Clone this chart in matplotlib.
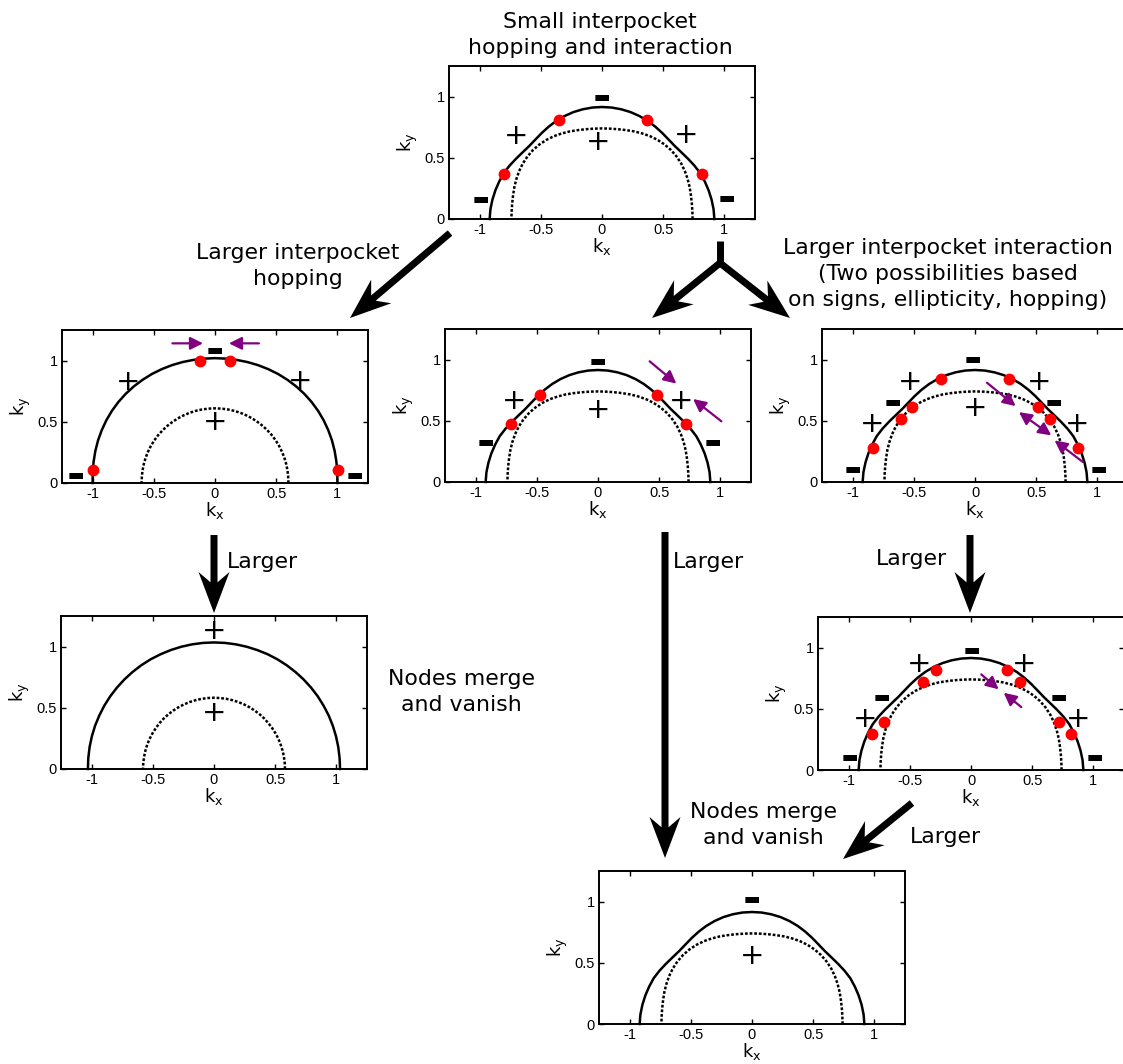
import numpy as np
import matplotlib
matplotlib.use('Agg')
import matplotlib.pyplot as plt
from matplotlib.patches import FancyArrow

plt.rcParams['font.family'] = ['DejaVu Sans']
plt.rcParams['mathtext.fontset'] = 'custom'
plt.rcParams['mathtext.rm'] = 'Liberation Sans'
plt.rcParams['mathtext.it'] = 'Liberation Sans:italic'

W, H = 1123, 1064
AW, AH = 306, 153
fig = plt.figure(figsize=(W / 100, H / 100), dpi=100)

# ---------------- data ----------------
THETA_DEG = np.arange(0, 181, 5)

R_OUT_STD = [0.918, 0.915, 0.909, 0.902, 0.894, 0.886, 0.872, 0.858, 0.847, 0.842,
             0.847, 0.858, 0.871, 0.884, 0.895, 0.904, 0.910, 0.914, 0.915,
             0.914, 0.910, 0.904, 0.895, 0.884, 0.871, 0.858, 0.847, 0.842,
             0.847, 0.858, 0.872, 0.886, 0.894, 0.902, 0.909, 0.915, 0.918]
R_IN_STD = [0.740, 0.741, 0.745, 0.752, 0.762, 0.772, 0.782, 0.790, 0.795, 0.797,
            0.795, 0.790, 0.782, 0.772, 0.762, 0.752, 0.745, 0.741, 0.740,
            0.741, 0.745, 0.752, 0.762, 0.772, 0.782, 0.790, 0.795, 0.797,
            0.795, 0.790, 0.782, 0.772, 0.762, 0.752, 0.745, 0.741, 0.740]
R_OUT_HOP = [1.000, 1.003, 1.007, 1.012, 1.017, 1.021, 1.025, 1.028, 1.030, 1.031,
             1.031, 1.030, 1.029, 1.027, 1.025, 1.023, 1.021, 1.020, 1.020,
             1.020, 1.021, 1.023, 1.025, 1.027, 1.029, 1.030, 1.031, 1.031,
             1.030, 1.028, 1.025, 1.021, 1.017, 1.012, 1.007, 1.003, 1.000]
R_IN_HOP = [0.600, 0.600, 0.601, 0.602, 0.603, 0.604, 0.605, 0.606, 0.607, 0.607,
            0.608, 0.608, 0.609, 0.609, 0.610, 0.610, 0.610, 0.610, 0.610,
            0.610, 0.610, 0.610, 0.610, 0.609, 0.609, 0.608, 0.608, 0.607,
            0.607, 0.606, 0.605, 0.604, 0.603, 0.602, 0.601, 0.600, 0.600]
R_OUT_MERGE = [1.030, 1.030, 1.031, 1.032, 1.033, 1.034, 1.034, 1.035, 1.035, 1.035,
               1.035, 1.035, 1.035, 1.035, 1.034, 1.034, 1.034, 1.034, 1.034,
               1.034, 1.034, 1.034, 1.034, 1.034, 1.035, 1.035, 1.035, 1.035,
               1.035, 1.035, 1.035, 1.034, 1.034, 1.033, 1.032, 1.031, 1.030]
R_IN_MERGE = [0.580, 0.580, 0.580, 0.580, 0.580, 0.581, 0.581, 0.581, 0.581, 0.582,
              0.582, 0.582, 0.582, 0.582, 0.582, 0.582, 0.582, 0.582, 0.582,
              0.582, 0.582, 0.582, 0.582, 0.582, 0.582, 0.582, 0.582, 0.582,
              0.582, 0.581, 0.581, 0.581, 0.581, 0.580, 0.580, 0.580, 0.580]

X_TICKS = [-1, -0.5, 0, 0.5, 1]
X_TICK_LABELS = ['-1', '-0.5', '0', '0.5', '1']
Y_TICKS = [0, 0.5, 1]
Y_TICK_LABELS = ['0', '0.5', '1']

# top panel
TOP_DOT_X = [-0.80, -0.355, 0.365, 0.815]
TOP_DOT_Y = [0.367, 0.811, 0.811, 0.367]
TOP_PLUS_X = [-0.70, -0.03, 0.69]
TOP_PLUS_Y = [0.68, 0.63, 0.686]
TOP_MINUS_X = [0.0, -0.993, 1.02]
TOP_MINUS_Y = [0.985, 0.15, 0.158]

# middle-left panel
ML_DOT_X = [-0.997, -0.122, 0.122, 1.003]
ML_DOT_Y = [0.109, 0.997, 0.997, 0.109]
ML_PLUS_X = [-0.707, 0.693, 0.0]
ML_PLUS_Y = [0.829, 0.834, 0.495]
ML_MINUS_X = [0.0, -1.141, 1.144]
ML_MINUS_Y = [1.073, 0.054, 0.054]
ML_ARROW_TAIL = [(-0.348, 1.141), (0.359, 1.141)]
ML_ARROW_HEAD = [(-0.098, 1.141), (0.114, 1.141)]
ML_ARROW_BOTH = [False, False]

# middle-centre panel
MC_DOT_X = [-0.708, -0.477, 0.485, 0.717]
MC_DOT_Y = [0.474, 0.711, 0.711, 0.474]
MC_PLUS_X = [-0.687, 0.005, 0.676]
MC_PLUS_Y = [0.659, 0.586, 0.659]
MC_MINUS_X = [0.0, -0.918, 0.935]
MC_MINUS_Y = [0.973, 0.313, 0.313]
MC_ARROW_TAIL = [(0.422, 0.986), (1.008, 0.496)]
MC_ARROW_HEAD = [(0.640, 0.804), (0.777, 0.678)]
MC_ARROW_BOTH = [False, False]

# middle-right panel
MR_DOT_X = [-0.833, -0.607, -0.512, -0.275, 0.278, 0.514, 0.610, 0.841]
MR_DOT_Y = [0.278, 0.512, 0.610, 0.838, 0.838, 0.610, 0.517, 0.280]
MR_PLUS_X = [-0.528, 0.52, -0.841, 0.833, 0.0]
MR_PLUS_Y = [0.816, 0.816, 0.476, 0.473, 0.604]
MR_MINUS_X = [-0.016, -0.675, 0.642, -0.996, 1.012]
MR_MINUS_Y = [0.993, 0.645, 0.639, 0.095, 0.095]
MR_ARROW_TAIL = [(0.098, 0.811), (0.623, 0.381), (0.882, 0.163)]
MR_ARROW_HEAD = [(0.332, 0.620), (0.359, 0.571), (0.650, 0.340)]
MR_ARROW_BOTH = [False, True, False]

# bottom-left panel
BL_PLUS_X = [0.0, 0.0]
BL_PLUS_Y = [1.129, 0.454]

# bottom-right panel
BR_DOT_X = [-0.808, -0.713, -0.392, -0.286, 0.294, 0.397, 0.721, 0.816]
BR_DOT_Y = [0.291, 0.392, 0.718, 0.814, 0.814, 0.718, 0.392, 0.291]
BR_PLUS_X = [-0.427, 0.430, -0.868, 0.879]
BR_PLUS_Y = [0.863, 0.863, 0.414, 0.414]
BR_MINUS_X = [0.008, -0.732, 0.716, -0.993, 1.015]
BR_MINUS_Y = [0.971, 0.585, 0.585, 0.093, 0.093]
BR_ARROW_TAIL = [(0.084, 0.781), (0.411, 0.514)]
BR_ARROW_HEAD = [(0.226, 0.659), (0.267, 0.631)]
BR_ARROW_BOTH = [False, False]

# bottom-centre panel
BC_PLUS_X = [0.0]
BC_PLUS_Y = [0.558]
BC_MINUS_X = [0.0]
BC_MINUS_Y = [1.012]

PURPLE = '#800080'


def make_axes(left, top):
    ax = fig.add_axes([left / W, 1 - (top + AH) / H, AW / W, AH / H])
    ax.set_xlim(-1.25, 1.25)
    ax.set_ylim(0, 1.25)
    ax.set_xticks(X_TICKS)
    ax.set_xticklabels(X_TICK_LABELS, family='Liberation Sans', fontsize=10.5)
    ax.set_yticks(Y_TICKS)
    ax.set_yticklabels(Y_TICK_LABELS, family='Liberation Sans', fontsize=10.5)
    ax.tick_params(direction='in', top=True, right=True, length=3.5, width=1, pad=3)
    for s in ax.spines.values():
        s.set_linewidth(1.4)
    ax.set_xlabel(r'$\mathregular{k_x}$', fontsize=13, labelpad=-1)
    ax.set_ylabel(r'$\mathregular{k_y}$', fontsize=13, labelpad=3)
    return ax


def draw_pockets(ax, r_out, r_in):
    th = np.deg2rad(THETA_DEG)
    ro = np.asarray(r_out)
    ri = np.asarray(r_in)
    ax.plot(ro * np.cos(th), ro * np.sin(th), color='black', lw=1.8,
            solid_joinstyle='round', clip_on=False)
    ax.plot(ri * np.cos(th), ri * np.sin(th), color='black', lw=1.8,
            linestyle=(0, (1.1, 0.75)), dash_capstyle='butt')


def draw_dots(ax, xs, ys):
    ax.plot(xs, ys, 'o', color='red', ms=8.5, mec='none', zorder=5, clip_on=False)


def draw_signs(ax, px, py, mx=(), my=()):
    for x, y in zip(px, py):
        ax.text(x, y, '+', fontsize=21, ha='center', va='center',
                family='DejaVu Sans', zorder=6)
    for x, y in zip(mx, my):
        ax.text(x, y, '-', fontsize=32, ha='center', va='center',
                family='DejaVu Sans', fontweight='bold', zorder=6)


def draw_purple(ax, tails, heads, both):
    for t, h, b in zip(tails, heads, both):
        ax.annotate('', xy=h, xytext=t,
                    arrowprops=dict(arrowstyle='<|-|>' if b else '-|>',
                                    color=PURPLE, lw=1.6, mutation_scale=19,
                                    shrinkA=0, shrinkB=0), zorder=7)


# top
ax = make_axes(449, 66)
draw_pockets(ax, R_OUT_STD, R_IN_STD)
draw_dots(ax, TOP_DOT_X, TOP_DOT_Y)
draw_signs(ax, TOP_PLUS_X, TOP_PLUS_Y, TOP_MINUS_X, TOP_MINUS_Y)

# middle-left
ax = make_axes(62, 330)
draw_pockets(ax, R_OUT_HOP, R_IN_HOP)
draw_dots(ax, ML_DOT_X, ML_DOT_Y)
draw_signs(ax, ML_PLUS_X, ML_PLUS_Y, ML_MINUS_X, ML_MINUS_Y)
draw_purple(ax, ML_ARROW_TAIL, ML_ARROW_HEAD, ML_ARROW_BOTH)

# middle-centre
ax = make_axes(445, 329)
draw_pockets(ax, R_OUT_STD, R_IN_STD)
draw_dots(ax, MC_DOT_X, MC_DOT_Y)
draw_signs(ax, MC_PLUS_X, MC_PLUS_Y, MC_MINUS_X, MC_MINUS_Y)
draw_purple(ax, MC_ARROW_TAIL, MC_ARROW_HEAD, MC_ARROW_BOTH)

# middle-right
ax = make_axes(822, 329)
draw_pockets(ax, R_OUT_STD, R_IN_STD)
draw_dots(ax, MR_DOT_X, MR_DOT_Y)
draw_signs(ax, MR_PLUS_X, MR_PLUS_Y, MR_MINUS_X, MR_MINUS_Y)
draw_purple(ax, MR_ARROW_TAIL, MR_ARROW_HEAD, MR_ARROW_BOTH)

# bottom-left
ax = make_axes(61, 616)
draw_pockets(ax, R_OUT_MERGE, R_IN_MERGE)
draw_signs(ax, BL_PLUS_X, BL_PLUS_Y)

# bottom-right
ax = make_axes(818, 617)
draw_pockets(ax, R_OUT_STD, R_IN_STD)
draw_dots(ax, BR_DOT_X, BR_DOT_Y)
draw_signs(ax, BR_PLUS_X, BR_PLUS_Y, BR_MINUS_X, BR_MINUS_Y)
draw_purple(ax, BR_ARROW_TAIL, BR_ARROW_HEAD, BR_ARROW_BOTH)

# bottom-centre
ax = make_axes(599, 871)
draw_pockets(ax, R_OUT_STD, R_IN_STD)
draw_signs(ax, BC_PLUS_X, BC_PLUS_Y, BC_MINUS_X, BC_MINUS_Y)

# ---------------- overlay: big arrows and text ----------------
ov = fig.add_axes([0, 0, 1, 1], zorder=10)
ov.set_xlim(0, W)
ov.set_ylim(H, 0)
ov.axis('off')


def big_arrow(x0, y0, x1, y1):
    ov.add_patch(FancyArrow(x0, y0, x1 - x0, y1 - y0, width=7, head_width=31,
                            head_length=41, length_includes_head=True,
                            overhang=0.25, color='black', lw=0))


big_arrow(450, 233, 350, 318)
ov.plot([720, 720], [241, 266], color='black', lw=5, solid_capstyle='butt')
big_arrow(720, 263, 652, 318)
big_arrow(720, 263, 790, 318)
big_arrow(214, 535, 214, 613)
big_arrow(665, 532, 665, 858)
big_arrow(970, 535, 970, 613)
big_arrow(912, 803, 843, 859)

FS = 15.8
LS = 1.38
ov.text(600, 35, 'Small interpocket\nhopping and interaction', ha='center',
        va='center', fontsize=FS, linespacing=LS)
ov.text(298, 266, 'Larger interpocket\nhopping', ha='center', va='center',
        fontsize=FS, linespacing=LS)
ov.text(948, 274, 'Larger interpocket interaction\n(Two possibilities based\n'
        'on signs, ellipticity, hopping)', ha='center', va='center',
        fontsize=FS, linespacing=LS)
ov.text(227, 562, 'Larger', ha='left', va='center', fontsize=FS)
ov.text(673, 562, 'Larger', ha='left', va='center', fontsize=FS)
ov.text(876, 559, 'Larger', ha='left', va='center', fontsize=FS)
ov.text(461, 692, 'Nodes merge\nand vanish', ha='center', va='center',
        fontsize=FS, linespacing=LS)
ov.text(763, 825, 'Nodes merge\nand vanish', ha='center', va='center',
        fontsize=FS, linespacing=LS)
ov.text(910, 837, 'Larger', ha='left', va='center', fontsize=FS)

fig.savefig('out.png', dpi=100)
